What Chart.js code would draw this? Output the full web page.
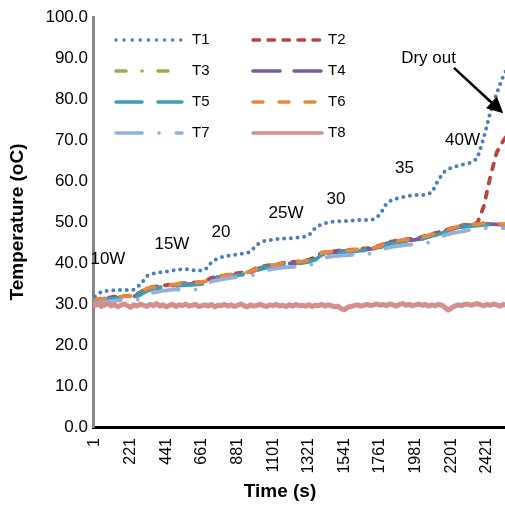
<!DOCTYPE html>
<html><head><meta charset="utf-8">
<script src="https://cdn.jsdelivr.net/npm/chart.js@4.4.0/dist/chart.umd.min.js"></script>
<style>html,body{margin:0;padding:0;background:#fff}#wrap{width:505px;height:509px;position:relative}</style>
</head><body><div id="wrap"><canvas id="c"></canvas></div>
<script>
// ---- data (temperature, °C) ----
const seriesNames = ['T1','T2','T3','T4','T5','T6','T7','T8'];
const sampleStep = 40;      // s, for T1..T7
const sampleStepT8 = 20;    // s, for T8
const T1 = [31.8,33.0,33.2,33.4,33.4,33.4,33.5,34.7,36.8,37.4,37.7,37.9,38.2,38.4,38.5,38.3,38.1,38.3,40.2,41.2,41.6,41.9,42.1,42.3,42.7,44.5,45.3,45.6,45.8,46.0,46.0,46.2,46.3,46.7,48.6,49.5,49.9,50.1,50.2,50.3,50.4,50.5,50.5,50.6,51.8,54.6,55.5,55.9,56.2,56.5,56.6,56.6,57.2,60.3,62.4,63.3,63.7,64.1,64.5,65.5,70.5,76.7,81.4,85.6,88.5];
const T2 = [31.0,31.3,31.5,31.8,31.9,32.0,32.1,32.9,33.9,34.2,34.4,34.6,34.8,35.0,35.1,35.2,35.3,35.6,36.4,36.8,37.0,37.3,37.5,37.7,38.0,38.8,39.2,39.5,39.7,40.0,40.2,40.3,40.5,40.8,41.4,42.5,42.8,42.9,43.1,43.2,43.3,43.5,43.6,43.8,44.3,45.0,45.3,45.6,45.8,45.9,46.1,46.7,47.1,47.5,48.0,48.5,49.0,49.3,49.5,49.7,53.8,61.0,67.0,69.8,72.0];
const T3 = [30.9,31.1,31.3,31.6,31.7,31.8,31.9,32.7,33.7,34.0,34.2,34.4,34.6,34.8,34.9,35.0,35.1,35.4,36.2,36.6,36.8,37.1,37.3,37.5,37.8,38.6,39.0,39.3,39.5,39.8,40.0,40.1,40.3,40.6,41.2,42.3,42.6,42.7,42.9,43.0,43.1,43.3,43.4,43.6,44.1,44.8,45.1,45.4,45.6,45.7,45.9,46.5,46.9,47.3,47.8,48.3,48.8,49.1,49.3,49.4,49.6,49.6,49.5,49.4,49.4];
const T4 = [30.8,31.0,31.3,31.5,31.6,31.7,31.8,32.5,33.5,33.9,34.1,34.3,34.5,34.7,34.8,34.9,35.0,35.2,36.0,36.5,36.7,37.0,37.2,37.4,37.7,38.4,38.9,39.2,39.4,39.7,39.9,40.0,40.2,40.5,41.0,42.2,42.5,42.6,42.8,42.9,43.0,43.2,43.3,43.5,43.9,44.7,45.0,45.3,45.5,45.6,45.8,46.3,46.8,47.2,47.7,48.2,48.7,49.0,49.2,49.3,49.5,49.5,49.4,49.3,49.3];
const T5 = [30.6,30.8,31.1,31.3,31.4,31.5,31.6,32.2,33.2,33.7,33.9,34.1,34.3,34.5,34.6,34.7,34.8,35.0,35.8,36.3,36.5,36.8,37.0,37.2,37.5,38.2,38.7,39.0,39.2,39.5,39.7,39.8,40.0,40.3,40.8,42.0,42.3,42.4,42.6,42.7,42.8,43.0,43.1,43.3,43.7,44.5,44.8,45.1,45.3,45.4,45.6,46.1,46.6,47.0,47.5,48.0,48.5,48.8,49.0,49.1,49.3,49.3,49.2,49.1,49.1];
const T6 = [31.0,31.2,31.5,31.7,31.8,31.9,32.0,32.8,33.8,34.1,34.3,34.5,34.7,34.9,35.0,35.1,35.2,35.5,36.2,36.7,36.9,37.2,37.4,37.6,37.9,38.6,39.1,39.4,39.6,39.9,40.1,40.2,40.4,40.7,41.2,42.4,42.7,42.8,43.0,43.1,43.2,43.4,43.5,43.7,44.1,44.9,45.2,45.5,45.7,45.8,46.0,46.5,47.0,47.4,47.9,48.4,48.9,49.2,49.4,49.5,49.7,49.7,49.6,49.5,49.5];
const T7 = [30.2,30.4,30.6,30.8,30.9,31.0,31.0,31.1,32.2,32.8,33.1,33.3,33.5,33.5,33.4,33.4,33.6,34.6,35.5,35.8,36.1,36.4,36.6,36.8,36.9,37.2,37.9,38.4,38.7,38.9,39.0,39.1,39.2,39.3,40.1,41.0,41.5,41.7,41.8,41.9,42.0,42.1,42.2,42.4,43.0,43.6,44.0,44.2,44.4,44.5,44.6,44.8,45.2,46.0,46.8,47.2,47.5,47.8,48.1,48.4,48.5,48.5,48.5,48.5,48.5];
const T8 = [29.6,30.0,29.4,29.8,30.1,29.5,29.9,29.3,29.7,30.0,29.6,29.2,29.8,29.5,30.0,29.7,29.4,29.9,29.6,30.1,
29.5,29.8,29.3,29.7,29.9,29.4,29.8,29.6,30.0,29.5,29.7,29.9,29.4,29.6,29.8,29.5,29.9,29.3,29.7,29.6,
29.9,29.5,29.8,29.4,29.7,30.0,29.6,29.3,29.8,29.5,29.7,29.9,29.6,29.4,29.8,29.6,29.9,29.5,29.7,29.4,
29.8,29.5,29.9,29.6,29.7,29.5,29.8,29.4,29.7,29.6,29.9,29.5,29.8,29.6,29.3,29.5,28.8,28.6,29.2,29.4,
29.6,29.8,29.5,29.7,29.9,29.6,29.8,30.0,29.7,29.9,29.6,30.0,29.8,29.5,29.9,30.1,29.7,29.9,29.6,29.8,
30.0,29.7,29.9,29.5,29.8,29.6,29.9,29.7,29.2,28.5,29.0,29.5,29.8,29.6,29.9,30.0,29.7,29.9,30.1,29.8,
29.6,29.9,29.7,30.0,29.8,29.5,29.9,29.7,29.8];
const xTickLabels = [1,221,441,661,881,1101,1321,1541,1761,1981,2201,2421];
const yTickLabels = [0,10,20,30,40,50,60,70,80,90,100];
const annotations = [
  {text:'10W', t:81, v:41.0}, {text:'15W', t:476, v:44.6}, {text:'20', t:779, v:47.6},
  {text:'25W', t:1180, v:52.0}, {text:'30', t:1489, v:55.6}, {text:'35', t:1912, v:63.2},
  {text:'40W', t:2270, v:70.0}, {text:'Dry out', t:2060, v:90.0}
];
const arrow = {t0:2217, v0:87.6, t1:2521, v1:76.5};

// ---- styles ----
const styles = {
  T1:{color:'#4A7EBB', dash:[0,6.7], ldash:[0,8.1], width:4},
  T2:{color:'#B8433F', dash:[6,8.5], ldash:[6.5,8.5], width:3.8},
  T3:{color:'#8FB04A', dash:[10,16,0,16], ldash:[10,16,0,16], width:3.8},
  T4:{color:'#7A5C9E', dash:[26,14], ldash:[27,14], width:3.8},
  T5:{color:'#3F9CB5', dash:[26,16], ldash:[26,16], width:3.8},
  T6:{color:'#E8883A', dash:[10,16], ldash:[10,16], width:3.8},
  T7:{color:'#94AFD8', dash:[26,17,0,17], ldash:[26,17,0,17], width:3.8},
  T8:{color:'#D48F8D', dash:[], ldash:[], width:5}
};
const FONT = '"Liberation Sans", Arial, sans-serif';
const seriesData = [T1,T2,T3,T4,T5,T6,T7,T8];

const datasets = seriesNames.map((name, k) => {
  const vals = seriesData[k];
  const step = name === 'T8' ? sampleStepT8 : sampleStep;
  const st = styles[name];
  return {
    label: name,
    data: vals.map((v, i) => ({x: 1 + i*step, y: v})),
    borderColor: st.color, borderWidth: st.width, borderDash: st.dash,
    borderCapStyle: 'round', borderJoinStyle: 'round',
    pointRadius: 0, tension: 0, fill: false,
    order: 8 - k
  };
});

const overlay = {
  id: 'overlay',
  afterDraw(chart) {
    const {ctx, scales:{x, y}} = chart;
    ctx.save();
    ctx.fillStyle = '#000';
    ctx.textAlign = 'center'; ctx.textBaseline = 'middle';
    ctx.font = '17px ' + FONT;
    annotations.forEach(a => ctx.fillText(a.text, x.getPixelForValue(a.t), y.getPixelForValue(a.v)));
    // arrow
    const x0 = x.getPixelForValue(arrow.t0), y0 = y.getPixelForValue(arrow.v0);
    const x1 = x.getPixelForValue(arrow.t1), y1 = y.getPixelForValue(arrow.v1);
    const ang = Math.atan2(y1 - y0, x1 - x0);
    const hl = 16, hw = 8;
    const bx = x1 - hl*Math.cos(ang), by = y1 - hl*Math.sin(ang);
    ctx.strokeStyle = '#000'; ctx.lineWidth = 2.5; ctx.setLineDash([]);
    ctx.beginPath(); ctx.moveTo(x0, y0); ctx.lineTo(bx, by); ctx.stroke();
    ctx.beginPath(); ctx.moveTo(x1, y1);
    ctx.lineTo(bx + hw*Math.sin(ang), by - hw*Math.cos(ang));
    ctx.lineTo(bx - hw*Math.sin(ang), by + hw*Math.cos(ang));
    ctx.closePath(); ctx.fill();
    // legend
    const cols = [{l0:116, l1:182, tx:192}, {l0:253, l1:322, tx:328}];
    const rows = [40, 71, 102, 133];
    ctx.font = '15px ' + FONT; ctx.textAlign = 'left';
    seriesNames.forEach((name, k) => {
      const c = cols[k % 2], ry = rows[Math.floor(k/2)], st = styles[name];
      ctx.strokeStyle = st.color; ctx.lineWidth = Math.min(st.width, 3.5); ctx.lineCap = 'round';
      ctx.setLineDash(st.ldash);
      ctx.beginPath(); ctx.moveTo(c.l0, ry); ctx.lineTo(c.l1, ry); ctx.stroke();
      ctx.setLineDash([]);
      ctx.fillStyle = '#000';
      ctx.fillText(name, c.tx, ry);
    });
    // axis titles
    ctx.font = 'bold 19px ' + FONT; ctx.textAlign = 'center';
    ctx.fillText('Time (s)', 280, 492);
    ctx.translate(18, 222); ctx.rotate(-Math.PI/2);
    ctx.fillText('Temperature (oC)', 0, 0);
    ctx.restore();
  }
};

new Chart(document.getElementById('c'), {
  type: 'line',
  data: { datasets },
  options: {
    responsive: true, maintainAspectRatio: false, animation: false, devicePixelRatio: 1,
    layout: { autoPadding: false, padding: { top: 17, right: 0, left: 0, bottom: 0 } },
    plugins: { legend: { display: false }, tooltip: { enabled: false } },
    scales: {
      x: {
        type: 'linear', min: -11, max: 2532,
        afterBuildTicks: s => { s.ticks = xTickLabels.map(v => ({value: v})); },
        afterFit: s => { s.height = 82; s.paddingLeft = 0; s.paddingRight = 0; },
        grid: { display: false, drawTicks: false },
        border: { display: true, color: '#000', width: 3 },
        ticks: { autoSkip: false, minRotation: 90, maxRotation: 90, padding: 11,
          color: '#000', font: { size: 16, family: FONT },
          callback: v => String(v) }
      },
      y: {
        min: 0, max: 100,
        afterBuildTicks: s => { s.ticks = yTickLabels.map(v => ({value: v})); },
        afterFit: s => { s.width = 93; },
        grid: { display: false, drawTicks: false },
        border: { display: true, color: '#868686', width: 3 },
        ticks: { padding: 5, color: '#000', font: { size: 17, family: FONT },
          callback: v => Number(v).toFixed(1) }
      }
    }
  },
  plugins: [overlay]
});
</script></body></html>
